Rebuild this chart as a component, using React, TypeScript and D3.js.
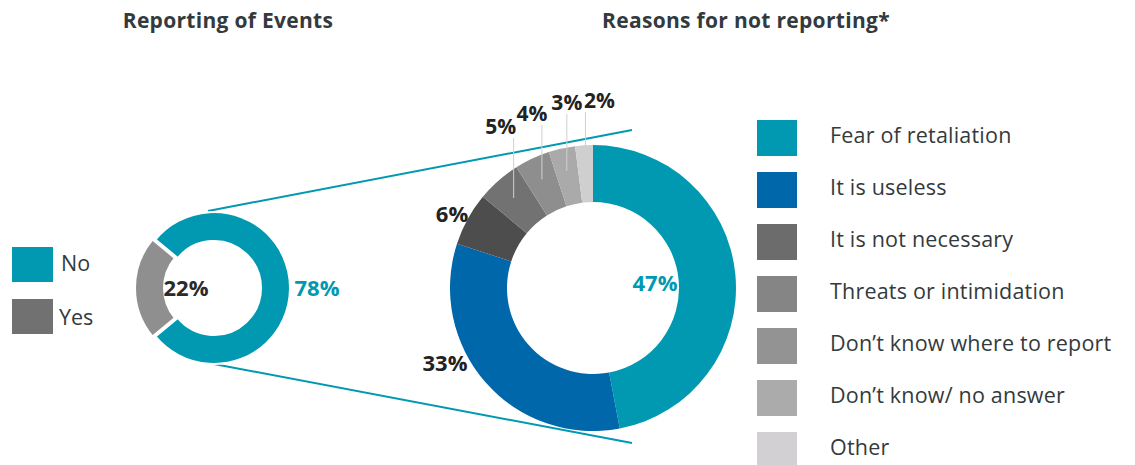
import React from "react";
import * as d3 from "d3";

const reportCategories = ["No", "Yes"];
const reportValues = [78, 22];
const reportSliceColors = ["#0099B1", "#8F8F8F"];
const reportLegendColors = ["#0099B1", "#727172"];

const reasonCategories = [
  "Fear of retaliation",
  "It is useless",
  "It is not necessary",
  "Threats or intimidation",
  "Don\u2019t know where to report",
  "Don\u2019t know/ no answer",
  "Other",
];
const reasonValues = [47, 33, 6, 5, 4, 3, 2];
const reasonSliceColors = ["#0099B1", "#0068AA", "#4D4D4D", "#727272", "#8E8E8E", "#AAAAAA", "#D0CFD0"];
const reasonLegendColors = ["#0099B1", "#0068AA", "#6D6C6D", "#858585", "#939393", "#ABABAB", "#D2D0D2"];

const FONT = "'Open Sans', Lato, sans-serif";
const TEXT = "#333a3d";
const PCT = 22;

export default function App() {
  const W = 1135, H = 465;

  // Left donut
  const lc = { x: 214, y: 288 };
  const lOuter = 76, lInner = 47;
  const lPie = d3.pie<number>().sort(null).startAngle(-0.28 * Math.PI).endAngle(1.72 * Math.PI);
  const lArcs = lPie(reportValues);
  const lArc = d3.arc<d3.PieArcDatum<number>>().innerRadius(lInner).outerRadius(lOuter);

  // Right donut
  const rc = { x: 593, y: 288 };
  const rOuter = 143, rInner = 86;
  const rPie = d3.pie<number>().sort(null);
  const rArcs = rPie(reasonValues);
  const rArc = d3.arc<d3.PieArcDatum<number>>().innerRadius(rInner).outerRadius(rOuter);

  // label placements for right donut (relative to center) for large slices
  const bigLabel: Record<number, [number, number, string]> = {
    0: [62, -5, "#0099B1"],
    1: [-148, 75, "#222"],
    2: [-141, -74, "#222"],
  };
  // small slice labels: leader lines to slice midpoint, label above
  const smallLabelY = [134, 121, 110, 108];
  const smallLabelDx = [-13, -10, 0, 14];

  const legendY0 = 120, legendStep = 52;

  return (
    <svg width={W} height={H} style={{ position: "absolute", left: 0, top: 0, background: "#fff" }} fontFamily={FONT}>
      <text x={228} y={28} textAnchor="middle" fontWeight={700} fontSize={21} letterSpacing={0.3} fill={TEXT}>Reporting of Events</text>
      <text x={746} y={28} textAnchor="middle" fontWeight={700} fontSize={21} letterSpacing={0.3} fill={TEXT}>Reasons for not reporting*</text>

      {/* connector lines */}
      <line x1={208} y1={211} x2={632} y2={130} stroke="#0099B1" strokeWidth={2} />
      <line x1={214} y1={364} x2={632} y2={443} stroke="#0099B1" strokeWidth={2} />

      {/* left donut */}
      <g transform={`translate(${lc.x},${lc.y})`}>
        {lArcs.map((a, i) => {
          const mid = (a.startAngle + a.endAngle) / 2;
          const off = i === 1 ? 3 : 0;
          const tx = Math.sin(mid) * off, ty = -Math.cos(mid) * off;
          return (
            <path key={i} d={lArc(a) || ""} fill={reportSliceColors[i]} stroke="#fff" strokeWidth={2}
              transform={`translate(${tx},${ty})`} />
          );
        })}
      </g>
      <text x={lc.x + 103} y={lc.y} dy="0.35em" textAnchor="middle" fontWeight={700} fontSize={PCT} fill="#0099B1">{reportValues[0]}%</text>
      <text x={lc.x - 28} y={lc.y} dy="0.35em" textAnchor="middle" fontWeight={700} fontSize={PCT} fill="#2a2a2a">{reportValues[1]}%</text>

      {/* left legend */}
      {reportCategories.map((c, i) => (
        <g key={c}>
          <rect x={12} y={247 + i * 52} width={41} height={35} fill={reportLegendColors[i]} />
          <text x={i === 0 ? 61 : 59} y={263 + i * 54} dy="0.35em" fontSize={21.5} fill={TEXT}>{c}</text>
        </g>
      ))}

      {/* right donut */}
      <g transform={`translate(${rc.x},${rc.y})`}>
        {rArcs.map((a, i) => (
          <path key={i} d={rArc(a) || ""} fill={reasonSliceColors[i]} />
        ))}
        {rArcs.map((a, i) => {
          if (i < 3) return null;
          const k = i - 3;
          const mid = (a.startAngle + a.endAngle) / 2;
          const r = 120;
          const px = Math.sin(mid) * r, py = -Math.cos(mid) * r;
          const ly = smallLabelY[k] - rc.y;
          return (
            <g key={"l" + i}>
              <line x1={px} y1={py} x2={px} y2={ly + 4} stroke="#d0d0d0" strokeWidth={1} />
              <text x={px + smallLabelDx[k]} y={ly} textAnchor="middle" fontWeight={700} fontSize={21} fill="#222">{reasonValues[i]}%</text>
            </g>
          );
        })}
        {Object.entries(bigLabel).map(([k, v]) => (
          <text key={"b" + k} x={v[0]} y={v[1]} dy="0.35em" textAnchor="middle" fontWeight={700} fontSize={PCT} fill={v[2]}>
            {reasonValues[+k]}%
          </text>
        ))}
      </g>

      {/* right legend */}
      {reasonCategories.map((c, i) => (
        <g key={c}>
          <rect x={757} y={legendY0 + i * legendStep} width={40} height={36} fill={reasonLegendColors[i]} />
          <text x={830} y={legendY0 + i * legendStep + 15} dy="0.35em" fontSize={21.5} letterSpacing={0.2} fill={TEXT}>{c}</text>
        </g>
      ))}
    </svg>
  );
}
